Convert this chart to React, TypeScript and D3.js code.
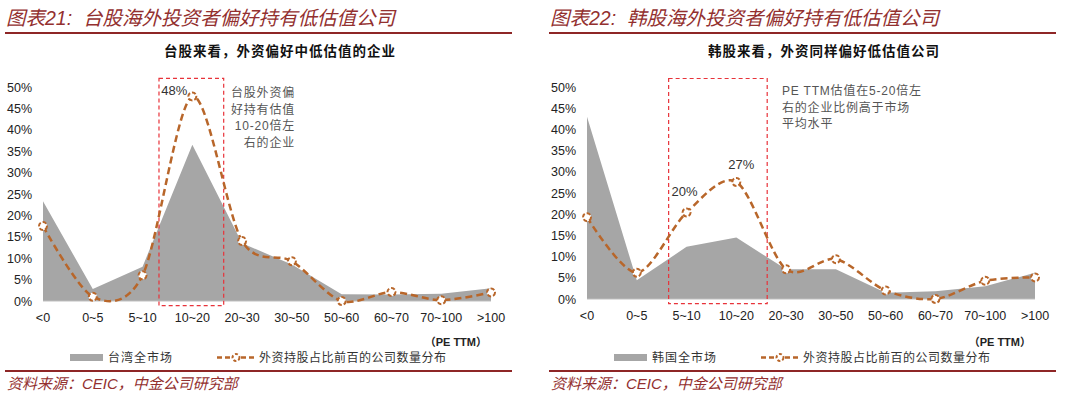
import React from 'react';
import * as d3 from 'd3';

// PE TTM buckets
const categories = ['<0', '0~5', '5~10', '10~20', '20~30', '30~50', '50~60', '60~70', '70~100', '>100'];
const yTicks = [0, 5, 10, 15, 20, 25, 30, 35, 40, 45, 50];

// Taiwan: whole market vs top-100 foreign-held companies (%)
const twMarket = [23.3, 2.8, 8, 36.5, 13.5, 8.5, 1.6, 1.5, 1.7, 3];
const twForeign = [17.5, 1, 6, 47.8, 14, 9.3, 0, 2.1, 0.2, 2];

// Korea
const krMarket = [43, 4.4, 12.3, 14.5, 7, 7, 1.5, 1.8, 3, 6.2];
const krForeign = [19.3, 6.2, 20.4, 27.6, 7, 9.4, 2, 0, 4.3, 5.1];

const FONT = '"Liberation Sans", Arial, "Noto Sans CJK SC", sans-serif';
const CJK = '"Noto Sans CJK SC", sans-serif';
const RED = '#8E2626';
const GREY = '#A6A6A6';
const ORANGE = '#B8662A';

type PanelProps = {
  ox: number;
  baseY: number;
  title: string;
  subtitle: string;
  market: number[];
  foreign: number[];
  labels: { i: number; text: string; dx: number; dy: number }[];
  box: [number, number];
  note: string[];
  noteAnchor: 'start' | 'end';
  noteX: number;
  noteY: number;
  marketName: string;
};

function Panel(p: PanelProps) {
  const x = d3.scalePoint<string>().domain(categories).range([43, 491]);
  const xi = d3.scaleLinear().domain([0, categories.length - 1]).range([43, 491]);
  const y = d3.scaleLinear().domain([0, 50]).range([p.baseY, 87]);

  const area = d3
    .area<number>()
    .x((_, i) => x(categories[i]) as number)
    .y0(y(0))
    .y1((d) => y(d));
  const line = d3
    .line<number>()
    .x((_, i) => x(categories[i]) as number)
    .y((d) => y(d))
    .curve(d3.curveCardinal.tension(0.1));

  return (
    <g transform={`translate(${p.ox},0)`}>
      <text x={6} y={25} fill="#93302F" fontSize={19.5} fontStyle="italic" fontFamily={FONT}>
        {p.title}
      </text>
      <line x1={5} x2={512} y1={33} y2={33} stroke={RED} strokeWidth={2} />
      <text x={280} y={56} textAnchor="middle" fontSize={13.5} fontWeight="bold" letterSpacing={1} fontFamily={CJK} fill="#111">
        {p.subtitle}
      </text>

      {yTicks.map((t) => (
        <text key={t} x={32} y={y(t) + 4.5} textAnchor="end" fontSize={12.5} fontFamily={FONT} fill="#222">
          {t}%
        </text>
      ))}
      {categories.map((c) => (
        <text key={c} x={x(c)} y={p.baseY + 21} textAnchor="middle" fontSize={12.5} fontFamily={FONT} fill="#222">
          {c}
        </text>
      ))}

      <path d={area(p.market) ?? ''} fill={GREY} />
      <line x1={43} x2={491} y1={y(0)} y2={y(0)} stroke="#BFBFBF" strokeWidth={1} />

      <rect
        x={xi(p.box[0])}
        y={y(52)}
        width={xi(p.box[1]) - xi(p.box[0])}
        height={y(-1.1) - y(52)}
        fill="none"
        stroke="#E8333A"
        strokeWidth={1.2}
        strokeDasharray="4,3"
      />

      <path d={line(p.foreign) ?? ''} fill="none" stroke={ORANGE} strokeWidth={2.5} strokeDasharray="7,4" />
      {p.foreign.map((v, i) => (
        <circle key={i} cx={x(categories[i])} cy={y(v)} r={4} fill="#fff" stroke={ORANGE} strokeWidth={2} strokeDasharray="4,2" />
      ))}

      {p.labels.map((l) => (
        <text
          key={l.i}
          x={(x(categories[l.i]) as number) + l.dx}
          y={y(p.foreign[l.i]) + l.dy}
          textAnchor="middle"
          fontSize={13}
          fontFamily={FONT}
          fill="#333"
        >
          {l.text}
        </text>
      ))}

      {p.note.map((s, i) => (
        <text key={i} x={p.noteX} y={p.noteY + i * 16.5} textAnchor={p.noteAnchor} fontSize={12} letterSpacing={0.8} fontFamily={FONT} fill="#555">
          {s}
        </text>
      ))}

      <text x={487} y={346} textAnchor="end" fontSize={11} fontWeight="bold" fontFamily={FONT} fill="#222">
        （PE TTM）
      </text>

      <rect x={70} y={354} width={33} height={7} fill={GREY} />
      <text x={108} y={361.5} fontSize={12} letterSpacing={1} fontFamily={CJK} fill="#333">
        {p.marketName}
      </text>
      <line x1={217} x2={255} y1={357.5} y2={357.5} stroke={ORANGE} strokeWidth={2.5} strokeDasharray="5,3" />
      <circle cx={236} cy={357.5} r={3.5} fill="#fff" stroke={ORANGE} strokeWidth={2} strokeDasharray="3,2" />
      <text x={259} y={361.5} fontSize={12} letterSpacing={0.5} fontFamily={CJK} fill="#333">
        外资持股占比前百的公司数量分布
      </text>

      <line x1={5} x2={512} y1={371} y2={371} stroke={RED} strokeWidth={2} />
      <text x={7} y={389} fill="#93302F" fontSize={15} fontStyle="italic" fontFamily={FONT}>
        资料来源：CEIC，中金公司研究部
      </text>
    </g>
  );
}

export default function App() {
  return (
    <div style={{ position: 'absolute', left: 0, top: 0 }}>
      <svg width={1080} height={396} style={{ display: 'block', background: '#fff' }}>
        <Panel
          ox={0}
          baseY={301}
          title={'图表21:\u00A0 台股海外投资者偏好持有低估值公司'}
          subtitle="台股来看，外资偏好中低估值的企业"
          market={twMarket}
          foreign={twForeign}
          labels={[{ i: 3, text: '48%', dx: -18, dy: -1 }]}
          box={[2.33, 3.63]}
          note={['台股外资偏', '好持有估值', '10-20倍左', '右的企业']}
          noteAnchor="end"
          noteX={295}
          noteY={97}
          marketName="台湾全市场"
        />
        <Panel
          ox={544}
          baseY={299}
          title={'图表22:\u00A0 韩股海外投资者偏好持有低估值公司'}
          subtitle="韩股来看，外资同样偏好低估值公司"
          market={krMarket}
          foreign={krForeign}
          labels={[
            { i: 2, text: '20%', dx: -2, dy: -17 },
            { i: 3, text: '27%', dx: 5, dy: -13 },
          ]}
          box={[1.64, 3.62]}
          note={['PE TTM估值在5-20倍左', '右的企业比例高于市场', '平均水平']}
          noteAnchor="start"
          noteX={238}
          noteY={95}
          marketName="韩国全市场"
        />
      </svg>
    </div>
  );
}
